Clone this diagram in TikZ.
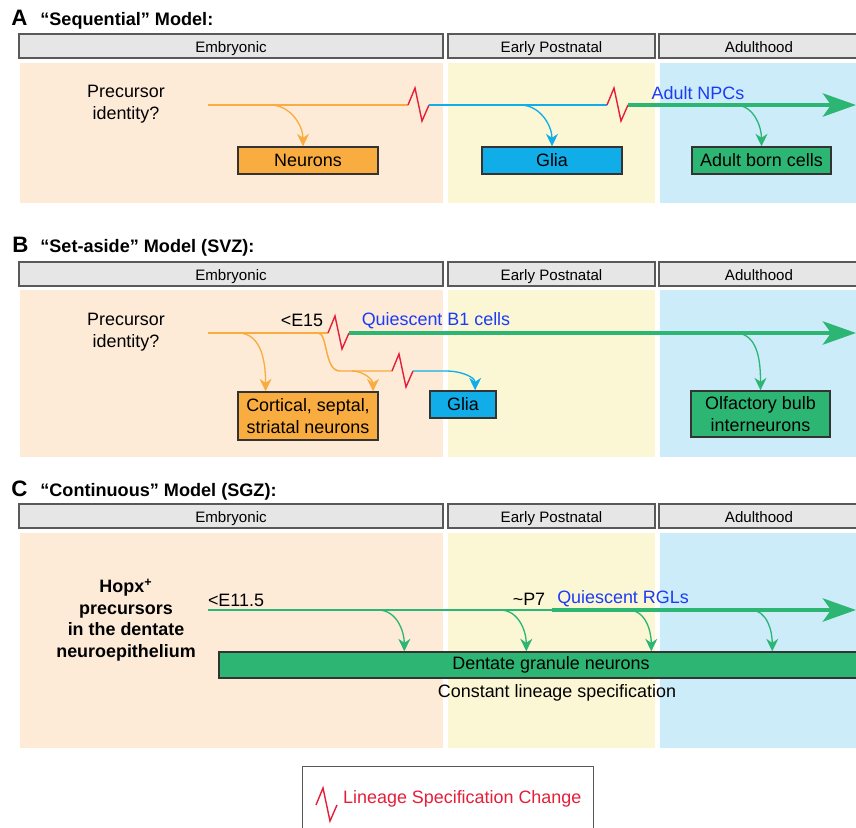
\documentclass[tikz,border=0pt]{standalone}
\usepackage{fontspec}
\setmainfont{Liberation Sans}
\usetikzlibrary{positioning,calc,arrows.meta}

\definecolor{embbg}{HTML}{FDEBD8}
\definecolor{postbg}{HTML}{FBF7D5}
\definecolor{adultbg}{HTML}{CBECF8}
\definecolor{bargray}{HTML}{E6E6E6}
\definecolor{barline}{HTML}{595959}
\definecolor{neurorange}{HTML}{F9AC3F}
\definecolor{gliablue}{HTML}{10ADE8}
\definecolor{adultgreen}{HTML}{2DB573}
\definecolor{zigred}{HTML}{E51E3A}
\definecolor{labelblue}{HTML}{1A3CF5}

\tikzset{%
  phasebar/.style = {draw=barline, fill=bargray, line width=0.8pt,
        minimum height=0.48cm, inner sep=0pt, text height=0.72em, text depth=0pt,
        font=\fontsize{8.6pt}{10pt}\selectfont},
  cellbox/.style = {draw=black!80, line width=0.8pt, minimum height=0.54cm,
        inner sep=1pt, align=center},
  paneltitle/.style = {anchor=base west, inner sep=0pt,
        font=\fontsize{10.3pt}{12pt}\selectfont\bfseries},
  panelletter/.style = {anchor=base west, inner sep=0pt,
        font=\fontsize{12.7pt}{14pt}\selectfont\bfseries},
  lineage/.style = {line width=0.85pt},
  thickline/.style = {line width=2.8pt, draw=adultgreen,
        -{Stealth[length=0.66cm,width=0.46cm,inset=0.16cm]}},
  smallarrow/.style = {line width=0.75pt,
        -{Stealth[length=0.25cm,width=0.24cm,inset=0.08cm]}},
  zigline/.style = {draw=zigred, line width=0.8pt, line join=miter},
  zig/.pic = {\draw[zigline] (0,0) -- (7,-17) -- (14,16) -- (21,0) coordinate (-out);}
}

\begin{document}
\begin{tikzpicture}[x=0.02cm, y=-0.02cm, font=\fontsize{10.2pt}{12.5pt}\selectfont]
   \clip (0,0) rectangle (856,828);
   \fill[white] (0,0) rectangle (856,828);

   % phases of each panel
   \foreach \p/\hy/\bt/\bb in {A/34/63/203, B/262/290/457, C/504/533/748}{
     \fill[embbg] (20,\bt) rectangle (443,\bb);
     \fill[postbg] (448,\bt) rectangle (655,\bb);
     \fill[adultbg] (660,\bt) rectangle (880,\bb);
     \node[phasebar, minimum width=8.48cm] (emb\p) at (231,\hy+12) {Embryonic};
     \node[phasebar, minimum width=4.14cm] (post\p) at (551.5,\hy+12) {Early Postnatal};
     \node[phasebar, minimum width=4.0cm] (adult\p) at (759,\hy+12) {Adulthood};
   }

   \node[panelletter] (labA) at (11,26) {A};
   \node[paneltitle] (titleA) at (40,26) {“Sequential” Model:};
   \node[panelletter] (labB) at (12,253) {B};
   \node[paneltitle] (titleB) at (40,253) {“Set-aside” Model (SVZ):};
   \node[panelletter] (labC) at (11,496) {C};
   \node[paneltitle] (titleC) at (40,496) {“Continuous” Model (SGZ):};

   % A
   \node[align=center] (precA) at (126,104) {Precursor\\identity?};
   \coordinate (a0) at (208,105);
   \coordinate (az1) at (408,105);
   \coordinate (az2) at (607,105);
   \coordinate (aend) at (856,105);
   \draw[lineage, neurorange] (a0) -- (az1);
   \pic (zA1) at (az1) {zig};
   \draw[lineage, gliablue] (zA1-out) -- (az2);
   \pic (zA2) at (az2) {zig};
   \draw[thickline] (zA2-out) -- (aend);
   \node[text=labelblue] (npc) at (698,93) {Adult NPCs};

   \node[cellbox, fill=neurorange, minimum width=2.8cm] (neuA) at (308,160.5) {Neurons};
   \node[cellbox, fill=gliablue, minimum width=2.8cm] (gliaA) at (552,160.5) {Glia};
   \node[cellbox, fill=adultgreen, minimum width=2.78cm] (bornA) at (761.5,160.5) {Adult born cells};

   \draw[smallarrow, neurorange] ($(a0)+(62,0)$) to[out=0,in=90] ([xshift=-0.1cm]neuA.north);
   \draw[smallarrow, gliablue] ($(a0)+(312,0)$) to[out=0,in=90] (gliaA.north);
   \draw[smallarrow, adultgreen] ($(a0)+(527,0)$) to[out=0,in=90] (bornA.north);

   % B
   \node[align=center] (precB) at (126,332) {Precursor\\identity?};
   \coordinate (b0) at (208,333);
   \coordinate (bsplit) at (318,333);
   \coordinate (bz1) at (328,333);
   \coordinate (bz2) at (392,371);
   \coordinate (bend) at (856,333);
   \draw[lineage, neurorange] (b0) -- (bz1);
   \draw[lineage, neurorange] (bsplit) .. controls +(10,0) and +(-16,0) .. ($(bz2)+(-52,0)$) -- (bz2);
   \pic (zB1) at (bz1) {zig};
   \draw[thickline] (zB1-out) -- (bend);
   \pic (zB2) at (bz2) {zig};
   \node (e15) at (302,320) {<E15};
   \node[text=labelblue] (qb1) at (436,321) {Quiescent B1 cells};

   \node[cellbox, fill=neurorange, minimum width=2.8cm, minimum height=0.96cm] (cortB) at (308,416) {Cortical, septal,\\striatal neurons};
   \node[cellbox, fill=gliablue, minimum width=1.32cm] (gliaB) at (463,404.5) {Glia};
   \node[cellbox, fill=adultgreen, minimum width=2.78cm, minimum height=0.92cm] (olfB) at (760.5,414) {Olfactory bulb\\interneurons};

   \draw[smallarrow, neurorange] ($(b0)+(30,0)$) to[out=0,in=90] ($(cortB.north west)!0.2!(cortB.north east)$);
   \draw[smallarrow, neurorange] ($(bz2)+(-40,0)$) to[out=0,in=90] ($(cortB.north west)!0.96!(cortB.north east)$);
   \draw[smallarrow, gliablue] (zB2-out) -- ++(34,0) to[out=0,in=90] ($(gliaB.north west)!0.68!(gliaB.north east)$);
   \draw[smallarrow, adultgreen] ($(b0)+(527,0)$) to[out=0,in=90] (olfB.north);

   % C
   \node[align=center, font=\fontsize{10.2pt}{12.3pt}\selectfont\bfseries] (hopx) at (126,620) {Hopx\textsuperscript{+}\\precursors\\in the dentate\\neuroepithelium};
   \coordinate (c0) at (208,610);
   \coordinate (cq) at (552,610);
   \coordinate (cend) at (856,610);
   \draw[lineage, adultgreen] (c0) -- (cq);
   \draw[thickline] (cq) -- (cend);
   \node (e115) at (236,600) {<E11.5};
   \node (p7) at (529,599) {\textasciitilde P7};
   \node[text=labelblue] (rgl) at (623,599) {Quiescent RGLs};

   \node[cellbox, fill=adultgreen, minimum width=13.28cm, minimum height=0.52cm] (dgn) at (551,665) {Dentate granule neurons};
   \node (const) at (557,693) {Constant lineage specification};
   \foreach \s/\t in {170/3.72, 292/6.16, 420/8.66, 542/11.08}
     \draw[smallarrow, adultgreen] ($(c0)+(\s,0)$) to[out=0,in=90] ([xshift=\t cm]dgn.north west);

   % legend
   \node[draw=barline, line width=0.8pt, anchor=north west, minimum width=5.82cm, minimum height=1.7cm] (legend) at (302,766) {};
   \pic (zL) at ($(legend.north west)+(14,39)$) {zig};
   \node[text=zigred, anchor=west] (legtext) at (337,799) {Lineage Specification Change};
\end{tikzpicture}
\end{document}
